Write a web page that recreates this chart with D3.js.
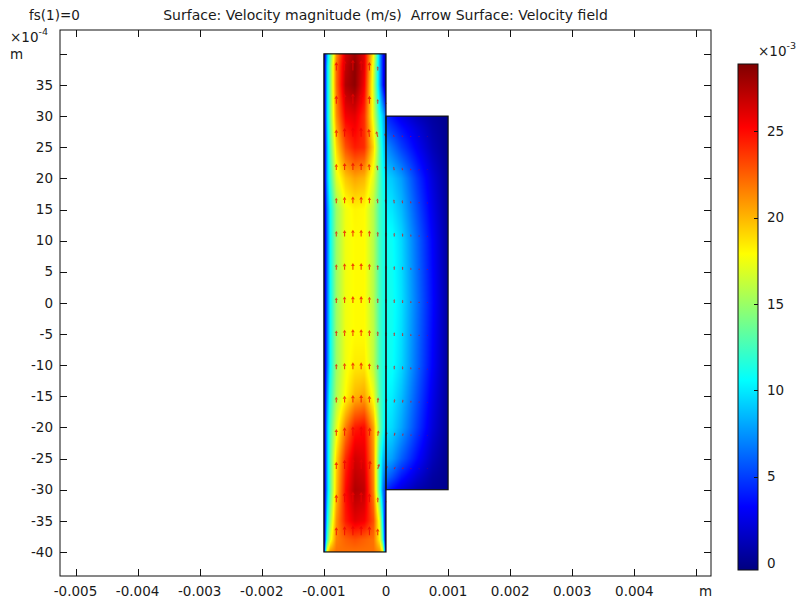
<!DOCTYPE html>
<html><head><meta charset="utf-8">
<script src="https://cdn.jsdelivr.net/npm/d3@7"></script>
<style>
body{margin:0;background:#fff}
text{font-family:"DejaVu Sans",sans-serif;font-size:13.5px;fill:#1a1a1a}
</style>
</head><body>
<svg id="chart" width="800" height="602"></svg>
<script>
// ---------------- data ----------------
const xTicks = [-0.005,-0.004,-0.003,-0.002,-0.001,0,0.001,0.002,0.003,0.004,0.005]; // m
const xTickLabels = ["-0.005","-0.004","-0.003","-0.002","-0.001","0","0.001","0.002","0.003","0.004","m"];
const yTicks = [-40,-35,-30,-25,-20,-15,-10,-5,0,5,10,15,20,25,30,35,40]; // x1e-4 m
const yTickLabels = ["-40","-35","-30","-25","-20","-15","-10","-5","0","5","10","15","20","25","30","35","m"];
const cbTicks = [0,5,10,15,20,25]; // x1e-3 m/s

// velocity magnitude (x1e-3 m/s) in the left channel
const chanX = [-1.0,-0.95,-0.9,-0.8,-0.65,-0.5,-0.35,-0.2,-0.1,-0.05,0]; // x1e-3 m
const chanY = [-40,-38,-35,-30,-25,-20,-15,-10,-5,0,5,10,15,20,25,30,35,38,40]; // x1e-4 m
const chanV = [
  [2,18,21,22,22,22,22,22,21,18,2],
  [0,12,17,21.5,22.5,23,22.5,22,18,12,0],
  [0,10,15,21,24.5,26,25.5,23,17,10,0],
  [0,8,13,19.5,25,27.5,27,21.5,12,7,4],
  [0,8,13,19,24,26.5,26,21,12,9,7.5],
  [0,8,12.5,17,21.5,24.5,25,20.5,14,11.5,9.5],
  [0,7,11.5,15.5,18,20,20.5,17.5,13,11.5,10.5],
  [0,6,10.5,15,17.5,18.5,18.5,16,12.5,11.5,11],
  [0,6,10.5,15,17.5,18,18,16,12.5,11.5,11],
  [0,6,10.5,15,17.5,18,18,15.8,12.5,11.5,11],
  [0,6,10.5,15,17.5,18,18,15.8,12.5,11.5,11],
  [0,6,10.5,15,17.5,18,18,15.8,12.5,11.5,11],
  [0,6.5,10.5,15,17.5,18.2,18,15.8,12.5,11.5,11],
  [0,8,12,17,19.5,20.5,20,17,13,11,10],
  [0,8,13,19,23,24.5,24,19,13,10,8],
  [0,9,14,21,25.5,26,24,17,11,9,6],
  [0,9,14,22,27.5,28.5,25.5,16.5,8,4,0],
  [0,9,14,22,27,28.5,26,17,8,4,0],
  [0,8,13,21,26.5,28,26,18,8,4,0]
];

// velocity magnitude (x1e-3 m/s) in the right block
const sideX = [0,0.1,0.25,0.5,0.75,1.0]; // x1e-3 m
const sideY = [-30,-28,-25,-20,-10,0,10,20,25,28,30]; // x1e-4 m
const sideV = [
  [4.5,3.5,2.3,1,0.3,0],
  [6.5,5.5,3.8,2,0.6,0],
  [8.5,7.8,6,3.5,1.3,0],
  [10,9.5,8,5,2.2,0.2],
  [11,10.8,9.5,6.3,3.2,0.4],
  [11.2,11,9.8,6.6,3.5,0.5],
  [11,10.8,9.5,6.3,3.2,0.4],
  [9.5,9,7.8,4.8,2.2,0.2],
  [7.5,6.5,5,3,1.2,0],
  [5.5,4.8,3.7,2.2,0.8,0],
  [4.5,3.7,2.6,1.3,0.5,0]
];

// arrow field (x1e-3 m/s): tails at arrowX (x1e-3 m), arrowY (x1e-4 m)
const arrowX = [-0.8,-0.667,-0.533,-0.4,-0.267,-0.133,0,0.133,0.267,0.4,0.533,0.667];
const arrowY = [-37.33,-32,-26.67,-21.33,-16,-10.67,-5.33,0,5.33,10.67,16,21.33,26.67,32,37.33];
const arrowV = [
  [21.5,24,26,25.5,24,18,0,0,0,0,0,0],
  [20,25,27.5,27,23,13,3,0,0,0,0,0],
  [19,24,26.5,26,22,14,7.5,6,4.5,2.5,1.2,0.5],
  [17.5,22,24.5,25,21.5,14,9.5,8.5,6.5,4,2.2,1],
  [15,18,20,20.5,18,13,10.5,9.5,8,5.5,3.5,1.8],
  [14.5,17,18.5,18.5,16,12.5,11,10,8.5,6,4,2],
  [14.5,17,18,18,16,12.5,11,10,8.5,6,4,2],
  [14.5,17,18,18,16,12.5,11,10,8.5,6,4,2],
  [14.5,17,18,18,16,12.5,11,10,8.5,6,4,2],
  [14.5,17,18,18,16,12.5,11,10,8.5,6,4,2],
  [14.5,17,18,18,16,12.5,11,10,8.5,6,4,2],
  [16.5,19,20,19.5,17,13,10,8.5,7,4.5,2.5,1.2],
  [19.5,23,25,24.5,21,15,9,5.5,4.5,3,2,1.3],
  [21.5,26,27,26,21,12,3,0,0,0,0,0],
  [22,27,28.5,27,22,11,0,0,0,0,0,0]
];
const arrowU = [
  [0,0,0,0,0,0,0,0,0,0,0,0],
  [0,0,0,0,0,0,0,0,0,0,0,0],
  [0,0,0,0.5,2,4,4,3,2,1,0.5,0],
  [0,0,0,0,1,2,2.5,2,1.5,1,0.5,0],
  [0,0,0,0,0,1,1.5,1.2,1,0.5,0,0],
  [0,0,0,0,0,0,0,0,0,0,0,0],
  [0,0,0,0,0,0,0,0,0,0,0,0],
  [0,0,0,0,0,0,0,0,0,0,0,0],
  [0,0,0,0,0,0,0,0,0,0,0,0],
  [0,0,0,0,0,0,0,0,0,0,0,0],
  [0,0,0,0,0,-1,-1.5,-1.2,-1,-0.5,0,0],
  [0,0,0,0,-1,-2,-2.5,-2,-1.5,-1,-0.5,0],
  [0,0,0,-0.5,-2,-4,-4,-3,-2,-1,-0.5,0],
  [0,0,0,0,0,0,0,0,0,0,0,0],
  [0,0,0,0,0,0,0,0,0,0,0,0]
];

// ---------------- chart ----------------
const svg = d3.select("#chart");
const L = 60, R = 711, T = 30, B = 576;
const x = d3.scaleLinear().domain([-0.00525, 0.005234]).range([L, R]);
const y = d3.scaleLinear().domain([-43.86, 43.83]).range([B, T]);

const clamp = v => Math.max(0, Math.min(1, v));
function jet(t){
  const r = clamp(1.5 - Math.abs(4*t - 3));
  const g = clamp(1.5 - Math.abs(4*t - 2));
  const b = clamp(1.5 - Math.abs(4*t - 1));
  return d3.rgb(r*255, g*255, b*255).toString();
}
const color = d3.scaleSequential(jet).domain([-0.4, 28.9]);

function sampleGrid(xs, ys, V, px, py){
  const cx = Math.max(xs[0], Math.min(xs[xs.length-1], px));
  const cy = Math.max(ys[0], Math.min(ys[ys.length-1], py));
  let i = Math.min(xs.length-2, Math.max(0, d3.bisectRight(xs, cx) - 1));
  let j = Math.min(ys.length-2, Math.max(0, d3.bisectRight(ys, cy) - 1));
  const tx = (cx - xs[i]) / (xs[i+1] - xs[i]);
  const ty = (cy - ys[j]) / (ys[j+1] - ys[j]);
  const a = V[j][i]*(1-tx) + V[j][i+1]*tx;
  const b = V[j+1][i]*(1-tx) + V[j+1][i+1]*tx;
  return a*(1-ty) + b*ty;
}

const defs = svg.append("defs");
function drawField(xs, ys, V, id){
  const x0 = x(xs[0]*1e-3), x1 = x(xs[xs.length-1]*1e-3);
  const y0 = y(ys[ys.length-1]), y1 = y(ys[0]);
  const px0 = Math.floor(x0), px1 = Math.ceil(x1), py0 = Math.floor(y0), py1 = Math.ceil(y1);
  const w = px1 - px0, h = py1 - py0;
  const cv = document.createElement("canvas");
  cv.width = w; cv.height = h;
  const ctx = cv.getContext("2d");
  const img = ctx.createImageData(w, h);
  for (let j = 0; j < h; j++){
    const dy = y.invert(py0 + j + 0.5);
    for (let i = 0; i < w; i++){
      const dx = x.invert(px0 + i + 0.5) * 1e3;
      const c = d3.rgb(color(sampleGrid(xs, ys, V, dx, dy)));
      const k = (j*w + i)*4;
      img.data[k] = c.r; img.data[k+1] = c.g; img.data[k+2] = c.b; img.data[k+3] = 255;
    }
  }
  ctx.putImageData(img, 0, 0);
  defs.append("clipPath").attr("id", id)
    .append("rect").attr("x", x0).attr("y", y0).attr("width", x1 - x0).attr("height", y1 - y0);
  svg.append("image").attr("x", px0).attr("y", py0).attr("width", w).attr("height", h)
    .attr("preserveAspectRatio", "none")
    .attr("href", cv.toDataURL()).attr("clip-path", `url(#${id})`);
  return [x0, y0, x1, y1];
}

const chanBox = drawField(chanX, chanY, chanV, "clipChan");
const sideBox = drawField(sideX, sideY, sideV, "clipSide");

// arrows
const arrowScale = 0.38;
const arrows = [];
arrowY.forEach((ay, r) => arrowX.forEach((ax, c) => {
  const u = arrowU[r][c], v = arrowV[r][c];
  if (Math.hypot(u, v) > 0.4) arrows.push({ax, ay, u, v});
}));
const ag = svg.append("g").attr("stroke", "#ee0000").attr("fill", "#ee0000").attr("opacity", 0.72);
arrows.forEach(a => {
  const tx = x(a.ax*1e-3), ty = y(a.ay);
  const dx = a.u*arrowScale, dy = -a.v*arrowScale;
  const len = Math.hypot(dx, dy);
  const ux = dx/len, uy = dy/len;
  const hl = Math.min(3.2, 0.45*len), hw = hl*0.6;
  const hx = tx + dx, hy = ty + dy;
  const bx = hx - ux*hl, by = hy - uy*hl;
  ag.append("line").attr("x1", tx).attr("y1", ty).attr("x2", bx).attr("y2", by).attr("stroke-width", 1.1);
  ag.append("path").attr("stroke", "none")
    .attr("d", `M${hx},${hy}L${bx - uy*hw},${by + ux*hw}L${bx + uy*hw},${by - ux*hw}Z`);
});

// geometry outlines
const og = svg.append("g").attr("fill", "none").attr("stroke", "#111").attr("stroke-width", 1.2);
og.append("rect").attr("x", chanBox[0]).attr("y", chanBox[1]).attr("width", chanBox[2]-chanBox[0]).attr("height", chanBox[3]-chanBox[1]);
og.append("rect").attr("x", sideBox[0]).attr("y", sideBox[1]).attr("width", sideBox[2]-sideBox[0]).attr("height", sideBox[3]-sideBox[1]);

// frame
svg.append("rect").attr("x", L).attr("y", T).attr("width", R-L).attr("height", B-T)
  .attr("fill", "none").attr("stroke", "#111").attr("stroke-width", 1);

const tickLen = 7;
const tg = svg.append("g").attr("stroke", "#111").attr("stroke-width", 1);
xTicks.forEach(t => {
  const px = Math.round(x(t)) + 0.5;
  tg.append("line").attr("x1", px).attr("x2", px).attr("y1", B).attr("y2", B - tickLen);
  tg.append("line").attr("x1", px).attr("x2", px).attr("y1", T).attr("y2", T + tickLen);
});
yTicks.forEach(t => {
  const py = Math.round(y(t)) + 0.5;
  tg.append("line").attr("x1", L).attr("x2", L + tickLen).attr("y1", py).attr("y2", py);
  tg.append("line").attr("x1", R).attr("x2", R - tickLen).attr("y1", py).attr("y2", py);
});

// tick labels
xTicks.forEach((t, i) => {
  const lab = xTickLabels[i];
  svg.append("text").attr("x", lab === "m" ? x(t) + 9 : x(t)).attr("y", 591.5).attr("dy", "0.35em")
    .attr("text-anchor", "middle").text(lab);
});
yTicks.forEach((t, i) => {
  const lab = yTickLabels[i];
  if (lab === "m") {
    svg.append("text").attr("x", 10).attr("y", y(t)).attr("dy", "0.35em").text("m");
  } else {
    svg.append("text").attr("x", 53).attr("y", y(t)).attr("dy", "0.35em").attr("text-anchor", "end").text(lab);
  }
});
const ye = svg.append("text").attr("x", 10).attr("y", 41.5).text("×10");
ye.append("tspan").attr("dy", -7).style("font-size", "9.5px").text("-4");

// titles
svg.append("text").attr("x", 29).attr("y", 19.5).text("fs(1)=0");
svg.append("text").attr("x", (L+R)/2).attr("y", 19.5).attr("text-anchor", "middle")
  .style("font-size", "14px").style("white-space", "pre")
  .text("Surface: Velocity magnitude (m/s)  Arrow Surface: Velocity field");

// colorbar
const cbL = 738, cbR = 758, cbT = 64, cbB = 570;
const cy = d3.scaleLinear().domain(color.domain()).range([cbB, cbT]);
const grad = defs.append("linearGradient").attr("id", "cbGrad")
  .attr("x1", 0).attr("y1", 1).attr("x2", 0).attr("y2", 0);
d3.range(0, 1.0001, 0.025).forEach(t => {
  grad.append("stop").attr("offset", t).attr("stop-color", jet(t));
});
svg.append("rect").attr("x", cbL).attr("y", cbT).attr("width", cbR-cbL).attr("height", cbB-cbT)
  .attr("fill", "url(#cbGrad)").attr("stroke", "#111").attr("stroke-width", 1);
cbTicks.forEach(t => {
  const py = Math.round(cy(t)) + 0.5;
  if (t > 0) svg.append("line").attr("x1", cbR).attr("x2", cbR - 4).attr("y1", py).attr("y2", py)
    .attr("stroke", "#111").attr("stroke-width", 1);
  svg.append("text").attr("x", 767).attr("y", cy(t)).attr("dy", "0.35em").text(t);
});
const ce = svg.append("text").attr("x", 758).attr("y", 56).text("×10");
ce.append("tspan").attr("dy", -7).style("font-size", "9.5px").text("-3");
</script>
</body></html>
